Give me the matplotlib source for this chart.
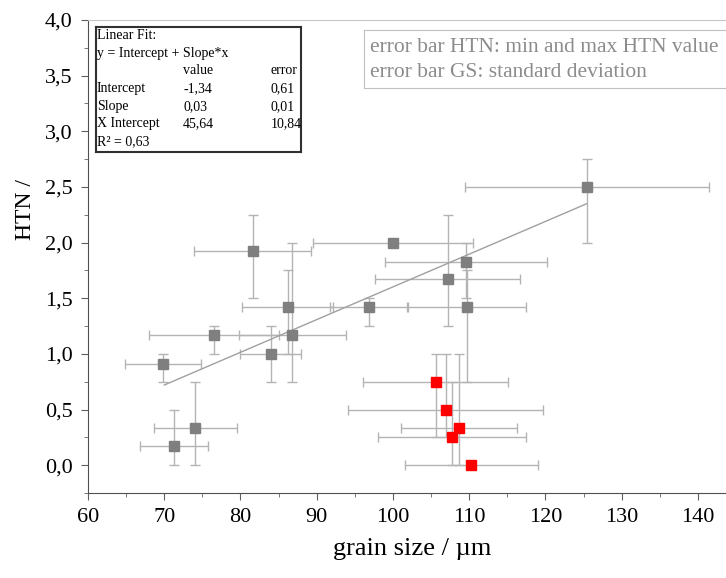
import matplotlib
matplotlib.use('Agg')
import matplotlib.pyplot as plt
import numpy as np
from matplotlib.ticker import FuncFormatter, MultipleLocator

plt.rcParams['font.family'] = ['Liberation Serif', 'DejaVu Serif']

# grey samples: grain size, HTN, GS std-dev, HTN min / max
gs_grey = [69.8, 76.5, 81.6, 86.2, 86.8, 84.0, 74.1, 71.3, 96.8, 109.7, 109.6, 107.2, 100.0, 125.4]
htn_grey = [0.91, 1.17, 1.92, 1.42, 1.17, 1.0, 0.33, 0.17, 1.42, 1.42, 1.83, 1.67, 2.0, 2.5]
gs_err_grey = [5.0, 8.5, 7.7, 6.0, 7.0, 4.0, 5.5, 4.5, 5.1, 7.7, 10.6, 9.5, 10.5, 16.0]
htn_min_grey = [0.75, 1.0, 1.5, 1.0, 0.75, 0.75, 0.0, 0.0, 1.25, 0.75, 1.5, 1.25, 2.0, 2.0]
htn_max_grey = [1.0, 1.25, 2.25, 1.75, 2.0, 1.25, 0.75, 0.5, 1.5, 1.75, 2.0, 2.25, 2.0, 2.75]

# red samples
gs_red = [105.6, 106.9, 108.7, 107.7, 110.3]
htn_red = [0.75, 0.5, 0.33, 0.25, 0.0]
gs_err_red = [9.5, 12.8, 7.6, 9.7, 8.7]
htn_min_red = [0.25, 0.25, 0.0, 0.0, 0.0]
htn_max_red = [1.0, 1.0, 1.0, 0.75, 0.0]

# linear fit
intercept = -1.338
slope = 0.0294
fit_x = [70.0, 125.4]

fit_rows = [('Intercept', '-1,34', '0,61'),
            ('Slope', '0,03', '0,01'),
            ('X Intercept', '45,64', '10,84')]

fig = plt.figure(figsize=(7.26, 5.78), dpi=100)
ax = fig.add_axes([88 / 726, 85 / 578, 648 / 726, 473 / 578])

ebc = '#b4b4b4'
for x, y, xe, ymn, ymx, col in [(gs_grey, htn_grey, gs_err_grey, htn_min_grey, htn_max_grey, '#7f7f7f'),
                                (gs_red, htn_red, gs_err_red, htn_min_red, htn_max_red, '#ff0000')]:
    x = np.array(x)
    y = np.array(y)
    yerr = [y - np.array(ymn), np.array(ymx) - y]
    ax.errorbar(x, y, xerr=xe, yerr=yerr, fmt='none', ecolor=ebc, elinewidth=1.0,
                capsize=3.5, capthick=1.0, zorder=2)
    ax.plot(x, y, 's', color=col, markersize=7, zorder=4)

fx = np.array(fit_x)
ax.plot(fx, intercept + slope * fx, color='#a0a0a0', lw=1.0, zorder=3)

ax.set_xlim(60, 145)
ax.set_ylim(-0.25, 4.0)
ax.xaxis.set_major_locator(MultipleLocator(10))
ax.xaxis.set_minor_locator(MultipleLocator(5))
ax.yaxis.set_major_locator(MultipleLocator(0.5))
ax.yaxis.set_minor_locator(MultipleLocator(0.25))
ax.yaxis.set_major_formatter(FuncFormatter(lambda v, p: f'{v:.1f}'.replace('.', ',')))
ax.tick_params(which='both', direction='out', color='#606060', labelsize=16, pad=6)
ax.tick_params(which='major', length=5)
ax.tick_params(which='minor', length=3)
for s in ['left', 'bottom']:
    ax.spines[s].set_color('#505050')
ax.spines['top'].set_color('#c8c8c8')
ax.spines['right'].set_visible(False)

ax.set_xlabel('grain size / µm', fontsize=19, labelpad=8)
ax.set_ylabel('HTN /', fontsize=17)
ax.yaxis.set_label_coords(-0.08, 0.6)

# fit result box
box_ax = fig.add_axes([96 / 726, 1 - 152 / 578, 205 / 726, 125 / 578])
box_ax.set_xticks([])
box_ax.set_yticks([])
for s in box_ax.spines.values():
    s.set_linewidth(1.5)
    s.set_color('#303030')
lines = [('Linear Fit:', '', ''), ('y = Intercept + Slope*x', '', ''), ('', 'value', 'error')]
lines += fit_rows + [('R² = 0,63', '', '')]
for i, (a, b, c) in enumerate(lines):
    yy = 0.93 - i * 0.141
    box_ax.text(0.005, yy, a, fontsize=10, va='center', transform=box_ax.transAxes)
    box_ax.text(0.425, yy, b, fontsize=10, va='center', transform=box_ax.transAxes)
    box_ax.text(0.85, yy, c, fontsize=10, va='center', transform=box_ax.transAxes)

# error bar note
note_ax = fig.add_axes([364 / 726, 1 - 88 / 578, 380 / 726, 58 / 578])
note_ax.set_xticks([])
note_ax.set_yticks([])
for s in note_ax.spines.values():
    s.set_color('#c0c0c0')
note_ax.text(0.015, 0.7, 'error bar HTN: min and max HTN value', fontsize=15.5,
             color='#8c8c8c', va='center', transform=note_ax.transAxes)
note_ax.text(0.015, 0.26, 'error bar GS: standard deviation', fontsize=15.5,
             color='#8c8c8c', va='center', transform=note_ax.transAxes)

fig.savefig('out.png', dpi=100)
